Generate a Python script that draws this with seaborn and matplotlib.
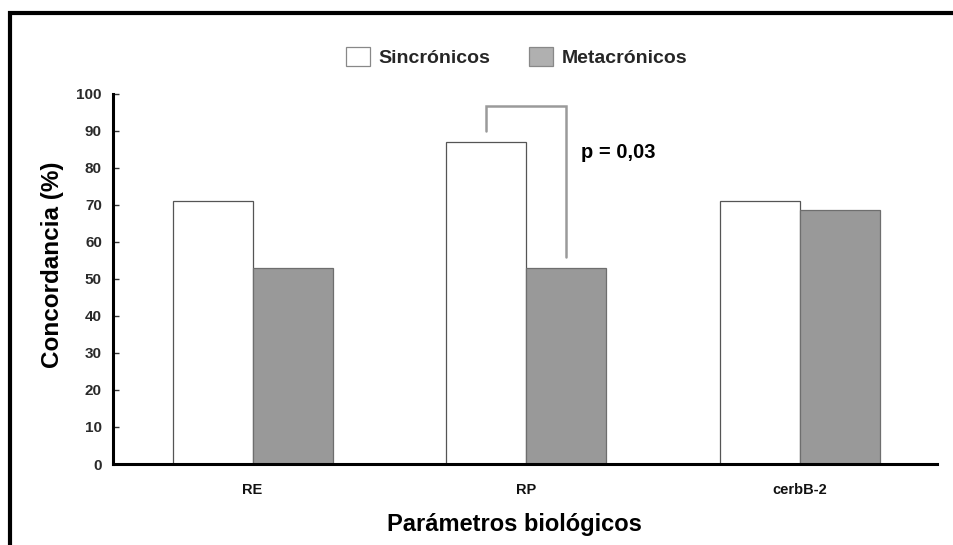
import numpy as np
import pandas as pd
import matplotlib
matplotlib.use("Agg")
import matplotlib.pyplot as plt
from matplotlib.patches import Patch
from matplotlib.lines import Line2D
import seaborn as sns

# ---- data ----
categories = ["RE", "RP", "cerbB-2"]
series_names = ["Sincrónicos", "Metacrónicos"]
sincronicos = [71, 87, 71]
metacronicos = [53, 53, 68.5]
y_ticks = [0, 10, 20, 30, 40, 50, 60, 70, 80, 90, 100]
p_text = "p = 0,03"
x_label = "Parámetros biológicos"
y_label = "Concordancia (%)"

df = pd.DataFrame({
    "Parámetro": categories * 2,
    "Concordancia": sincronicos + metacronicos,
    "Grupo": [series_names[0]] * 3 + [series_names[1]] * 3,
})

sns.set_theme(style="white")
plt.rcParams["font.family"] = ["Liberation Sans", "DejaVu Sans"]
plt.rcParams["font.weight"] = "bold"

W, H = 954, 545
fig = plt.figure(figsize=(W / 100, H / 100), dpi=100)
ax = fig.add_axes([113 / W, 1 - 464 / H, (937 - 113) / W, (464 - 93.5) / H])

fill_colors = ["#ffffff", "#999999"]
edge_colors = ["#555555", "#6e6e6e"]
sns.barplot(data=df, x="Parámetro", y="Concordancia", hue="Grupo",
            hue_order=series_names, order=categories,
            palette=fill_colors, saturation=1, width=0.584, gap=0,
            linewidth=0.9, legend=False, ax=ax)
for cont, ec in zip(ax.containers, edge_colors):
    for bar in cont:
        bar.set_edgecolor(ec)

ax.set_xlim(-0.51, 2.5)
ax.set_ylim(0, 100)
ax.set_yticks(y_ticks)
ax.set_yticklabels([str(t) for t in y_ticks], fontsize=11, fontweight="bold", color="#2a2a2a")
ax.set_xticks(range(len(categories)))
ax.set_xticklabels(categories, fontsize=10.5, fontweight="bold", color="#111111")
ax.set_xticks([0.5, 1.5, 2.5], minor=True)
ax.tick_params(axis="x", which="major", length=0, pad=14)
ax.tick_params(axis="x", which="minor", direction="in", length=4, width=1, color="#333333")
ax.tick_params(axis="y", which="major", direction="in", length=4, width=1, color="#333333",
               pad=8, left=True)

for s in ["top", "right"]:
    ax.spines[s].set_visible(False)
for s in ["left", "bottom"]:
    ax.spines[s].set_color("black")
    ax.spines[s].set_linewidth(2.2)

ax.set_xlabel(x_label, fontsize=17, fontweight="bold", color="black")
ax.set_ylabel(y_label, fontsize=17.5, fontweight="bold", color="black")
ax.xaxis.label.set_verticalalignment("center")
ax.yaxis.label.set_verticalalignment("center")
ax.xaxis.set_label_coords((514 - 113) / 824, (464 - 524.5) / 370.5)
ax.yaxis.set_label_coords((53 - 113) / 824, (464 - 265) / 370.5)

# significance bracket between RP bars
bx_left = ax.containers[0][1].get_x() + ax.containers[0][1].get_width() / 2
bx_right = ax.containers[1][1].get_x() + ax.containers[1][1].get_width() / 2
bracket_left_y, bracket_top_y, bracket_right_y = 90, 96.5, 56
ax.plot([bx_left, bx_left, bx_right, bx_right],
        [bracket_left_y, bracket_top_y, bracket_top_y, bracket_right_y],
        color="#9a9a9a", lw=1.8, solid_joinstyle="miter", clip_on=False)
ax.text(1.2, 84, p_text, fontsize=14.5, fontweight="bold", color="black",
        ha="left", va="center")

# legend
handles = [Patch(facecolor="#ffffff", edgecolor="#888888", lw=0.9),
           Patch(facecolor="#b0b0b0", edgecolor="#888888", lw=0.9)]
fig.legend(handles, series_names, loc="center", bbox_to_anchor=(516.5 / W, 1 - 57 / H),
           ncol=2, frameon=False, prop={"size": 14, "weight": "bold"},
           handlelength=1.24, handleheight=1.13, handletextpad=0.46,
           columnspacing=1.96, borderaxespad=0, borderpad=0)

# outer frame (top and left edges visible)
fx = 10 / W
fy = 1 - 12.5 / H
fig.add_artist(Line2D([fx, fx, 1.01], [-0.01, fy, fy], transform=fig.transFigure,
                      color="black", lw=3.0, solid_joinstyle="miter"))

fig.savefig("out.png", dpi=100, facecolor="white")
